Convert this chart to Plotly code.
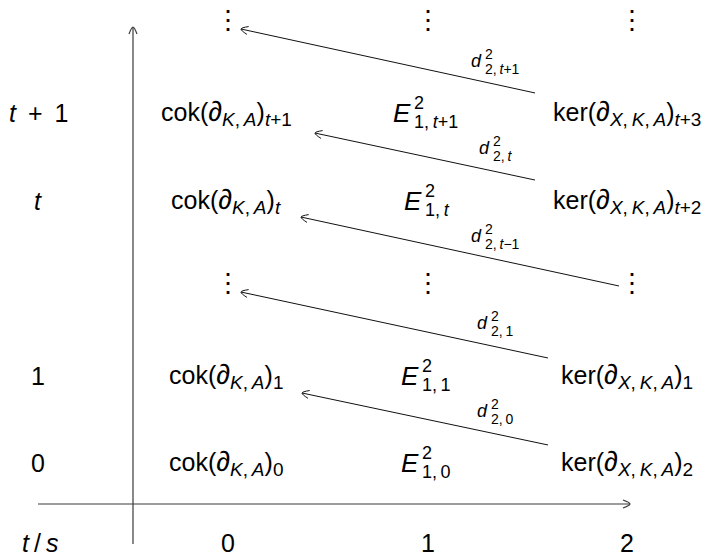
import math
import re
import plotly.graph_objects as go

# ---------------- data ----------------
columns = [0, 1, 2]
column_labels = ["0", "1", "2"]
corner_label = "<i>t</i>\u2009/\u2009<i>s</i>"
rows = [0, 1, 2, 3, 4, 5]
row_labels = ["0", "1", "", "<i>t</i>", "<i>t</i>\u2009 + \u20091", ""]

VDOTS = "⋮"
cok_index = ["0", "1", None, "<i>t</i>", "<i>t</i>+1", None]
e_index = ["1,0", "1,1", None, "1,<i>t</i>", "1,<i>t</i>+1", None]
ker_index = ["2", "1", None, "<i>t</i>+2", "<i>t</i>+3", None]

diff_source_rows = [0, 1, 2, 3, 4]
diff_index = ["2,0", "2,1", "2,<i>t</i>−1", "2,<i>t</i>", "2,<i>t</i>+1"]

# ---------------- style / geometry ----------------
W, H = 719, 557
SX, SY = 199.5, 87.5          # px per column / per row
X0PX, Y0PX = 228, 463         # pixel of (col 0, row 0)
FONT = "Liberation Sans"
BASE = 25
SUBPX = 19
TXT = "#000000"
AXC = "#3a3a3a"

# arrow trims (tail offset from (col2,row), tip offset from (col0,row+1)), data units
ARROW_TRIM = [
    ((-0.396, 0.206), (0.371, -0.200)),
    ((-0.396, 0.200), (0.065, -0.046)),
    ((-0.040, 0.023), (0.366, -0.189)),
    ((-0.461, 0.234), (0.436, -0.229)),
    ((-0.461, 0.229), (0.065, -0.040)),
]

xr = [-X0PX / SX, (W - X0PX) / SX]
yr = [(Y0PX - H) / SY, Y0PX / SY]

fig = go.Figure()
ann = []


def sub(s, size=SUBPX):
    s = s.replace(",", ",\u2009")
    return "<sub><span style='font-size:%dpx'>%s</span></sub>" % (size, s)


def partial(size=28):
    return "<span style='font-size:%dpx'><i>∂</i></span>" % size


def cw(s, size):
    s = re.sub(r"<[^>]+>", "", s)
    w = 0
    for ch in s:
        if ch in ",.t":
            w += 0.278
        elif ch in "+−":
            w += 0.584
        elif ch == "E":
            w += 0.667
        elif ch == "\u2009":
            w += 0.17
        else:
            w += 0.556
    return w * size


def text(x, y, s, size=BASE, xanchor="center", xshift=0, yshift=0):
    ann.append(dict(x=x, y=y, xref="x", yref="y", text=s, showarrow=False,
                    xanchor=xanchor, yanchor="middle", xshift=xshift, yshift=yshift,
                    font=dict(family=FONT, size=size, color=TXT)))


def stacked(x, y, base, sup, sb, bsize, ssize, up, down):
    sb = sb.replace(",", ",\u2009")
    bw = cw(base, bsize)
    sw = max(cw(sup, ssize), cw(sb, ssize))
    tot = bw + sw
    left = -tot / 2
    text(x, y, base, bsize, "right", left + bw + 1, 0)
    text(x, y, sup, ssize, "left", left + bw, up)
    text(x, y, sb, ssize, "left", left + bw, -down)


def line(xs, ys, color, width):
    fig.add_trace(go.Scatter(x=xs, y=ys, mode="lines", hoverinfo="skip",
                             line=dict(color=color, width=width), showlegend=False))


def arrow(x1, y1, x2, y2, color, width, L=7, hw=4):
    line([x1, x2], [y1, y2], color, width)
    dx, dy = (x2 - x1) * SX, (y2 - y1) * SY
    n = math.hypot(dx, dy)
    ux, uy = dx / n, dy / n
    px, py = -uy, ux
    bx, by = x2 * SX - L * ux, y2 * SY - L * uy
    ax_ = [(bx + hw * px) / SX, x2, (bx - hw * px) / SX]
    ay_ = [(by + hw * py) / SY, y2, (by - hw * py) / SY]
    fig.add_trace(go.Scatter(x=ax_, y=ay_, mode="lines", hoverinfo="skip",
                             line=dict(color=color, width=width, shape="spline"),
                             showlegend=False))


# ---------------- axes of the diagram ----------------
ax_x = -95 / SX
ax_y = -41 / SY
arrow(ax_x, (Y0PX - 544) / SY, ax_x, (Y0PX - 27) / SY, AXC, 1.2)
arrow(-190 / SX, ax_y, 402 / SX, ax_y, AXC, 1.2)

lab_x = -190 / SX
lab_y = -80 / SY
for r, lbl in zip(rows, row_labels):
    if lbl:
        text(lab_x, r, lbl)
for c, lbl in zip(columns, column_labels):
    text(c, lab_y, lbl)
text(lab_x + 0.01, lab_y, corner_label)

for r in rows:
    if cok_index[r] is None:
        text(columns[0], r + 0.06, VDOTS, 26)
    else:
        text(columns[0] - 0.01, r,
             "cok(" + partial() + sub("<i>K</i>,<i>A</i>") + ")" + sub(cok_index[r]))
    if e_index[r] is None:
        text(columns[1], r + 0.06, VDOTS, 26)
    else:
        stacked(columns[1] - 0.01, r, "<i>E</i>", "2", e_index[r], 26, 18, 10, 9)
    if ker_index[r] is None:
        text(columns[2] + 0.025, r + 0.06, VDOTS, 26)
    else:
        text(columns[2], r,
             "ker(" + partial() + sub("<i>X</i>,<i>K</i>,<i>A</i>") + ")" + sub(ker_index[r]))

for k, r in enumerate(diff_source_rows):
    (tdx, tdy), (hdx, hdy) = ARROW_TRIM[k]
    x1, y1 = columns[2] + tdx, r + tdy
    x2, y2 = columns[0] + hdx, r + 1 + hdy
    arrow(x1, y1, x2, y2, "#111111", 1.0, L=7, hw=4)
    stacked(columns[2] - 0.66, r + 0.6, "<i>d</i>", "2", diff_index[k], 18, 14, 7, 8)

fig.update_layout(
    width=W, height=H, autosize=False,
    margin=dict(l=0, r=0, t=0, b=0),
    paper_bgcolor="white", plot_bgcolor="white",
    xaxis=dict(range=xr, visible=False, fixedrange=True),
    yaxis=dict(range=yr, visible=False, fixedrange=True),
    annotations=ann,
    showlegend=False,
)
fig.write_html("out.html")
